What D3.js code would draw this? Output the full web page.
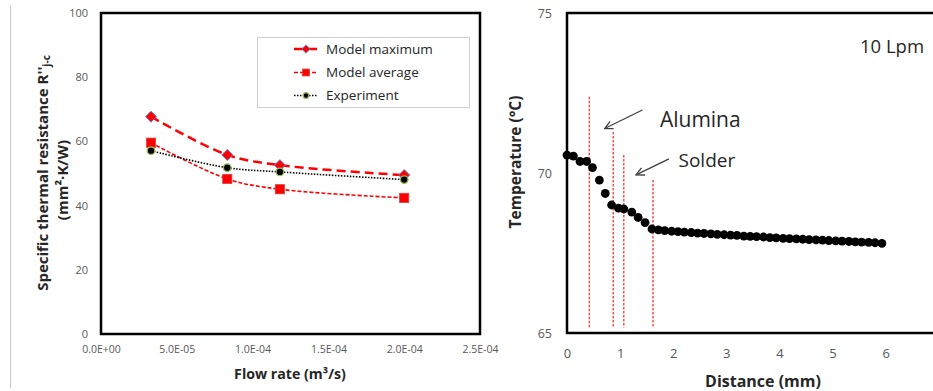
<!DOCTYPE html>
<html><head><meta charset="utf-8">
<script src="https://cdn.jsdelivr.net/npm/d3@7"></script>
<style>
body{margin:0;background:#fff;}
text{font-family:"Open Sans",sans-serif;}
</style></head>
<body><svg id="c" width="933" height="391"></svg>
<script>
// ---------- Left panel data ----------
const flowRates = [3.3e-5, 8.33e-5, 1.18e-4, 2.0e-4];
const modelMax = [67.7, 55.8, 52.6, 49.5];
const modelAvg = [59.6, 48.3, 45.1, 42.4];
const experiment = [57.1, 51.8, 50.5, 48.1];
const flowTicks = [0, 5e-5, 1e-4, 1.5e-4, 2e-4, 2.5e-4];
const flowTickLabels = ["0.0E+00", "5.0E-05", "1.0E-04", "1.5E-04", "2.0E-04", "2.5E-04"];
const resTicks = [0, 20, 40, 60, 80, 100];
const seriesNames = ["Model maximum", "Model average", "Experiment"];

// ---------- Right panel data ----------
const distance = [0, 0.12, 0.245, 0.37, 0.48, 0.61, 0.72, 0.84, 0.97, 1.07, 1.22, 1.34, 1.47, 1.6,
  1.72, 1.84, 1.97, 2.09, 2.21, 2.34, 2.46, 2.58, 2.71, 2.83, 2.96, 3.08, 3.20, 3.33, 3.45, 3.57,
  3.70, 3.82, 3.94, 4.07, 4.19, 4.32, 4.44, 4.56, 4.69, 4.81, 4.93, 5.06, 5.18, 5.31, 5.43, 5.55,
  5.68, 5.80, 5.93];
const temperature = [70.56, 70.53, 70.36, 70.36, 70.17, 69.78, 69.36, 69.0, 68.9, 68.875, 68.78, 68.61, 68.45, 68.25,
  68.22, 68.20, 68.18, 68.17, 68.15, 68.14, 68.12, 68.11, 68.10, 68.08, 68.07, 68.06, 68.05, 68.03, 68.02, 68.01,
  68.00, 67.98, 67.97, 67.96, 67.95, 67.94, 67.93, 67.92, 67.91, 67.90, 67.89, 67.88, 67.87, 67.86, 67.85, 67.84,
  67.83, 67.82, 67.80];
const layerX = [0.42, 0.87, 1.07, 1.62];
const layerTop = [72.38, 71.28, 70.56, 69.78];
const layerBottom = 65.17;
const distTicks = [0, 1, 2, 3, 4, 5, 6];
const tempTicks = [65, 70, 75];
const annotations = [
  {text: "Alumina", x: 1.75, y: 71.45, size: 21, ax0: 1.42, ay0: 71.97, ax1: 0.71, ay1: 71.39},
  {text: "Solder", x: 2.1, y: 70.2, size: 19, ax0: 1.92, ay0: 70.44, ax1: 1.30, ay1: 69.94}
];
const flowLabel = "10 Lpm";

const svg = d3.select("#c");
svg.append("rect").attr("width", 933).attr("height", 391).attr("fill", "#fff");
svg.append("line").attr("x1", 10.5).attr("x2", 10.5).attr("y1", 5).attr("y2", 388)
  .attr("stroke", "#c8c8c8").attr("stroke-width", 1);

const defs = svg.append("defs");
defs.append("marker").attr("id", "arr").attr("viewBox", "0 0 10 10").attr("refX", 9).attr("refY", 5)
  .attr("markerWidth", 10).attr("markerHeight", 10).attr("orient", "auto").attr("markerUnits", "userSpaceOnUse")
  .append("path").attr("d", "M1,1 L9,5 L1,9").attr("fill", "none").attr("stroke", "#404040").attr("stroke-width", 1.3);

// ================= LEFT =================
const xL = d3.scaleLinear().domain([0, 2.5e-4]).range([101, 480]);
const yL = d3.scaleLinear().domain([0, 100]).range([334, 13]);

const gL = svg.append("g");
const axYL = gL.append("g").attr("transform", "translate(101,0)")
  .call(d3.axisLeft(yL).tickValues(resTicks).tickSize(0).tickPadding(13));
axYL.select(".domain").remove();
axYL.selectAll("text").attr("font-size", 11).attr("fill", "#595959").attr("font-family", "Open Sans");

const axXL = gL.append("g").attr("transform", "translate(0,334)")
  .call(d3.axisBottom(xL).tickValues(flowTicks).tickSize(0).tickPadding(12).tickFormat((d, i) => flowTickLabels[i]));
axXL.select(".domain").remove();
axXL.selectAll("text").attr("font-size", 10.5).attr("fill", "#595959").attr("font-family", "Open Sans");

gL.append("rect").attr("x", xL(0)).attr("y", yL(100)).attr("width", xL(2.5e-4) - xL(0)).attr("height", yL(0) - yL(100))
  .attr("fill", "none").attr("stroke", "#000").attr("stroke-width", 2.5);

const lineL = d3.line().curve(d3.curveCatmullRom.alpha(0.5)).x(d => xL(d[0])).y(d => yL(d[1]));
const styles = [
  {vals: modelMax, color: "#ff0000", width: 2.5, dash: "9,5"},
  {vals: modelAvg, color: "#ff0000", width: 1.6, dash: "4,2"},
  {vals: experiment, color: "#000", width: 1.6, dash: "1.5,1.5"}
];
styles.forEach(s => {
  gL.append("path").attr("d", lineL(flowRates.map((f, i) => [f, s.vals[i]])))
    .attr("fill", "none").attr("stroke", s.color).attr("stroke-width", s.width).attr("stroke-dasharray", s.dash);
});
function drawMarker(g, type, cx, cy, scale) {
  if (type === 0) {
    const r = 5.5 * scale;
    g.append("path").attr("d", `M${cx},${cy - r}L${cx + r},${cy}L${cx},${cy + r}L${cx - r},${cy}Z`)
      .attr("fill", "#ff0000").attr("stroke", "#5b7fd0").attr("stroke-width", 1);
  } else if (type === 1) {
    const h = 4.6 * scale;
    g.append("rect").attr("x", cx - h).attr("y", cy - h).attr("width", 2 * h).attr("height", 2 * h)
      .attr("fill", "#ff0000").attr("stroke", "#e04040").attr("stroke-width", 0.8);
  } else {
    g.append("circle").attr("cx", cx).attr("cy", cy).attr("r", 3.8 * scale)
      .attr("fill", "#000").attr("stroke", "#9bbb59").attr("stroke-width", 1.3);
  }
}
styles.forEach((s, k) => {
  flowRates.forEach((f, i) => drawMarker(gL, k, xL(f), yL(s.vals[i]), 1));
});

// legend
const lg = gL.append("g");
lg.append("rect").attr("x", 257.5).attr("y", 37.5).attr("width", 212).attr("height", 70)
  .attr("fill", "#fff").attr("stroke", "#d0d0d0").attr("stroke-width", 1);
const legY = [49, 72.5, 95.5];
styles.forEach((s, k) => {
  lg.append("line").attr("x1", 294).attr("x2", 318).attr("y1", legY[k]).attr("y2", legY[k])
    .attr("stroke", s.color).attr("stroke-width", s.width).attr("stroke-dasharray", s.dash);
  drawMarker(lg, k, 306, legY[k], 0.75);
  lg.append("text").attr("x", 326).attr("y", legY[k]).attr("dy", "0.35em")
    .attr("font-size", 13.5).attr("fill", "#262626").text(seriesNames[k]);
});

// axis titles left
const t1 = gL.append("text").attr("transform", "translate(42,173) rotate(-90)")
  .attr("text-anchor", "middle").attr("dominant-baseline", "central")
  .attr("font-size", 15).attr("font-weight", "bold").attr("fill", "#262626");
t1.append("tspan").text("Specific thermal resistance R''");
t1.append("tspan").attr("font-size", 10).attr("dy", 4).text("j-c");
gL.append("text").attr("transform", "translate(62,180) rotate(-90)")
  .attr("text-anchor", "middle").attr("dominant-baseline", "central")
  .attr("font-size", 15).attr("font-weight", "bold").attr("fill", "#262626").text("(mm²·K/W)");
gL.append("text").attr("x", 290).attr("y", 379).attr("text-anchor", "middle")
  .attr("font-size", 14.2).attr("font-weight", "bold").attr("fill", "#262626").text("Flow rate (m³/s)");

// ================= RIGHT =================
const xR = d3.scaleLinear().domain([0, 7]).range([567, 938.7]);
const yR = d3.scaleLinear().domain([65, 75]).range([333, 13]);
const gR = svg.append("g");

const axYR = gR.append("g").attr("transform", "translate(567,0)")
  .call(d3.axisLeft(yR).tickValues(tempTicks).tickSize(0).tickPadding(15));
axYR.select(".domain").remove();
axYR.selectAll("text").attr("font-size", 12.5).attr("fill", "#595959").attr("font-family", "Open Sans");

const axXR = gR.append("g").attr("transform", "translate(0,333)")
  .call(d3.axisBottom(yR.copy().domain([0, 7]).range([567, 938.7])).tickValues(distTicks).tickSize(0).tickPadding(16).tickFormat(d3.format("d")));
axXR.select(".domain").remove();
axXR.selectAll("text").attr("font-size", 13).attr("fill", "#595959").attr("font-family", "Open Sans");

gR.append("rect").attr("x", xR(0)).attr("y", yR(75)).attr("width", xR(7) - xR(0)).attr("height", yR(65) - yR(75))
  .attr("fill", "none").attr("stroke", "#000").attr("stroke-width", 2.5);

layerX.forEach((lx, i) => {
  gR.append("line").attr("x1", xR(lx)).attr("x2", xR(lx)).attr("y1", yR(layerTop[i])).attr("y2", yR(layerBottom))
    .attr("stroke", "#ff2020").attr("stroke-width", 1.2).attr("stroke-dasharray", "2.5,1.5");
});

gR.selectAll("circle.pt").data(distance).enter().append("circle").attr("class", "pt")
  .attr("cx", d => xR(d)).attr("cy", (d, i) => yR(temperature[i])).attr("r", 4.4).attr("fill", "#000");

annotations.forEach(a => {
  gR.append("line").attr("x1", xR(a.ax0)).attr("y1", yR(a.ay0)).attr("x2", xR(a.ax1)).attr("y2", yR(a.ay1))
    .attr("stroke", "#404040").attr("stroke-width", 1.3).attr("marker-end", "url(#arr)");
  gR.append("text").attr("x", xR(a.x)).attr("y", yR(a.y)).attr("font-size", a.size).attr("fill", "#262626").text(a.text);
});
gR.append("text").attr("x", 860).attr("y", 53).attr("font-size", 18.5).attr("fill", "#262626").text(flowLabel);

gR.append("text").attr("transform", "translate(515,162) rotate(-90)")
  .attr("text-anchor", "middle").attr("dominant-baseline", "central")
  .attr("font-size", 15.5).attr("font-weight", "bold").attr("fill", "#262626").text("Temperature (°C)");
gR.append("text").attr("x", 763).attr("y", 387).attr("text-anchor", "middle")
  .attr("font-size", 16).attr("font-weight", "bold").attr("fill", "#262626").text("Distance (mm)");
</script></body></html>
